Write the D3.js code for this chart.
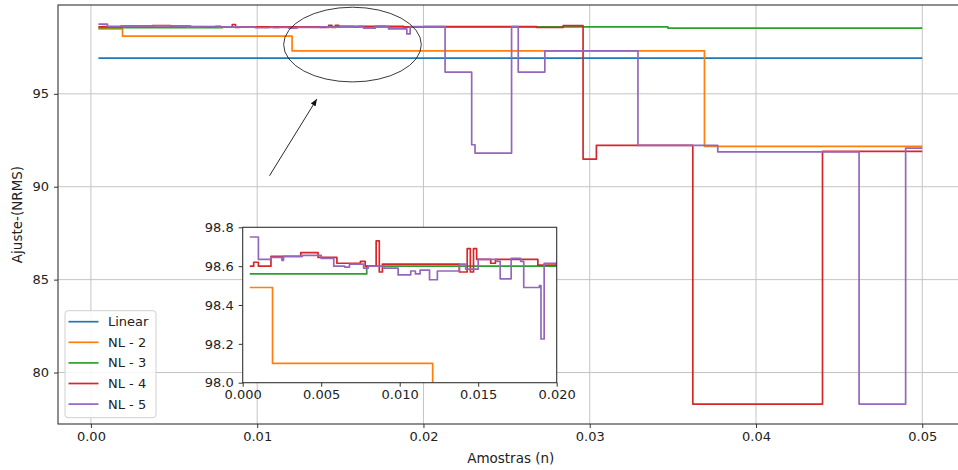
<!DOCTYPE html>
<html><head><meta charset="utf-8">
<script src="https://cdn.jsdelivr.net/npm/d3@7"></script>
<style>
body{margin:0;background:#fff;overflow:hidden;}
text{font-family:"DejaVu Sans",sans-serif;fill:#222;}
</style></head><body>
<svg id="chart" width="958" height="470"></svg>
<script>
const seriesNames = ["Linear", "NL - 2", "NL - 3", "NL - 4", "NL - 5"];
const seriesColors = ["#1f77b4", "#ff7f0e", "#2ca02c", "#d62728", "#9467bd"];

// Step breakpoints: each y value holds from its x until the next x
const linearX = [0.00045, 0.05];
const linearY = [96.92, 96.92];

const nl2X = [0.00045, 0.0019, 0.0121, 0.0369, 0.05];
const nl2Y = [98.49, 98.10, 97.31, 92.17, 92.17];

const nl3X = [0.00045, 0.0079, 0.0347, 0.05];
const nl3Y = [98.56, 98.60, 98.54, 98.54];

const nl4X = [0.00045, 0.0007, 0.0010, 0.0018, 0.0037, 0.0048, 0.0060, 0.0075, 0.0078, 0.0085,
              0.0087, 0.0089, 0.0138, 0.0143, 0.0145, 0.0147, 0.0149, 0.0158, 0.0161, 0.0188,
              0.0200, 0.0268, 0.0284, 0.0296, 0.0304, 0.0362, 0.0440, 0.05];
const nl4Y = [98.60, 98.62, 98.60, 98.65, 98.67, 98.645, 98.615, 98.625, 98.60, 98.73,
              98.57, 98.61, 98.57, 98.69, 98.57, 98.69, 98.635, 98.615, 98.635, 98.605,
              98.62, 98.57, 98.67, 91.49, 92.22, 78.30, 91.90, 91.90];

const nl5X = [0.00045, 0.0010, 0.0018, 0.0025, 0.0026, 0.0038, 0.0050, 0.0058, 0.0065, 0.0068,
              0.0077, 0.0080, 0.0090, 0.0099, 0.0107, 0.0110, 0.0113, 0.0119, 0.0124, 0.0138,
              0.0142, 0.0150, 0.0162, 0.0164, 0.0171, 0.0177, 0.0179, 0.0189, 0.0190, 0.0192,
              0.0213, 0.0229, 0.0231, 0.0253, 0.0257, 0.0273, 0.0329, 0.0377, 0.0462, 0.0490, 0.05];
const nl5Y = [98.75, 98.635, 98.645, 98.63, 98.65, 98.655, 98.64, 98.60, 98.595, 98.61,
              98.59, 98.60, 98.59, 98.555, 98.575, 98.56, 98.58, 98.53, 98.575, 98.61,
              98.585, 98.635, 98.625, 98.535, 98.64, 98.625, 98.49, 98.50, 98.225, 98.615,
              96.17, 92.26, 91.81, 98.62, 96.17, 97.31, 92.22, 91.88, 78.30, 92.08, 92.08];

const xTicks = [0.00, 0.01, 0.02, 0.03, 0.04, 0.05];
const yTicks = [80, 85, 90, 95];
const insetXTicks = [0.000, 0.005, 0.010, 0.015, 0.020];
const insetYTicks = [98.0, 98.2, 98.4, 98.6, 98.8];

const xLabel = "Amostras (n)";
const yLabel = "Ajuste-(NRMS)";

const seriesX = [linearX, nl2X, nl3X, nl4X, nl5X];
const seriesY = [linearY, nl2Y, nl3Y, nl4Y, nl5Y];
const series = seriesNames.map((name, i) => ({
  name, color: seriesColors[i],
  points: seriesX[i].map((x, j) => [x, seriesY[i][j]])
}));

const svg = d3.select("#chart");
const fontSize = 13;
const titleSize = 13.5;

// ---------- main axes ----------
const plot = {left: 58, right: 963.5, top: 5, bottom: 424};
const x = d3.scaleLinear().domain([-0.00198, 0.05248]).range([plot.left, plot.right]);
const y = d3.scaleLinear().domain([77.23, 99.78]).range([plot.bottom, plot.top]);

const defs = svg.append("defs");
defs.append("clipPath").attr("id", "mainClip").append("rect")
  .attr("x", plot.left).attr("y", plot.top)
  .attr("width", plot.right - plot.left).attr("height", plot.bottom - plot.top);

// grid
const grid = svg.append("g").attr("stroke", "#c4c4c4").attr("stroke-width", 1);
grid.selectAll("line.gx").data(xTicks).join("line")
  .attr("x1", d => x(d)).attr("x2", d => x(d))
  .attr("y1", plot.top).attr("y2", plot.bottom);
grid.selectAll("line.gy").data(yTicks).join("line")
  .attr("x1", plot.left).attr("x2", plot.right)
  .attr("y1", d => y(d)).attr("y2", d => y(d));

// series lines
const line = d3.line().x(d => x(d[0])).y(d => y(d[1])).curve(d3.curveStepAfter);
svg.append("g").attr("clip-path", "url(#mainClip)")
  .selectAll("path").data(series).join("path")
  .attr("d", d => line(d.points))
  .attr("fill", "none").attr("stroke", d => d.color)
  .attr("stroke-width", 1.7).attr("stroke-linejoin", "round");

// axes
const xAxis = d3.axisBottom(x).tickValues(xTicks).tickFormat(d3.format(".2f")).tickSize(4).tickPadding(4);
const yAxis = d3.axisLeft(y).tickValues(yTicks).tickFormat(d3.format("d")).tickSize(4).tickPadding(5);
const gx = svg.append("g").attr("transform", `translate(0,${plot.bottom})`).call(xAxis);
const gy = svg.append("g").attr("transform", `translate(${plot.left},0)`).call(yAxis);
[gx, gy].forEach(g => {
  g.select(".domain").remove();
  g.selectAll(".tick line").attr("stroke", "#333");
  g.selectAll(".tick text").attr("font-size", fontSize).attr("font-family", "DejaVu Sans").attr("fill", "#222");
});

// frame (left, top, bottom spines; right spine sits past the edge)
svg.append("rect")
  .attr("x", plot.left).attr("y", plot.top)
  .attr("width", plot.right - plot.left).attr("height", plot.bottom - plot.top)
  .attr("fill", "none").attr("stroke", "#333").attr("stroke-width", 1.1);

// axis titles
svg.append("text").attr("x", (plot.left + plot.right) / 2).attr("y", 463)
  .attr("text-anchor", "middle").attr("font-size", titleSize).text(xLabel);
svg.append("text").attr("transform", `translate(22,${(plot.top + plot.bottom) / 2}) rotate(-90)`)
  .attr("text-anchor", "middle").attr("font-size", titleSize).text(yLabel);

// ---------- annotation: ellipse around the top cluster and arrow ----------
const ellipse = {cx: 0.01573, cy: 97.65, w: 0.00828, h: 4.02};
svg.append("ellipse")
  .attr("cx", x(ellipse.cx)).attr("cy", y(ellipse.cy))
  .attr("rx", (x(ellipse.cx + ellipse.w / 2) - x(ellipse.cx - ellipse.w / 2)) / 2)
  .attr("ry", (y(ellipse.cy - ellipse.h / 2) - y(ellipse.cy + ellipse.h / 2)) / 2)
  .attr("fill", "none").attr("stroke", "#222").attr("stroke-width", 0.9);

defs.append("marker").attr("id", "arrowHead")
  .attr("viewBox", "0 0 10 10").attr("refX", 10).attr("refY", 5)
  .attr("markerWidth", 7).attr("markerHeight", 7).attr("markerUnits", "userSpaceOnUse")
  .attr("orient", "auto")
  .append("path").attr("d", "M0,1 L10,5 L0,9 Z").attr("fill", "#111");
const arrow = {x0: 0.01074, y0: 90.59, x1: 0.01359, y1: 94.72};
svg.append("line")
  .attr("x1", x(arrow.x0)).attr("y1", y(arrow.y0))
  .attr("x2", x(arrow.x1)).attr("y2", y(arrow.y1))
  .attr("stroke", "#111").attr("stroke-width", 0.9)
  .attr("marker-end", "url(#arrowHead)");

// ---------- legend ----------
const legend = svg.append("g");
legend.append("rect").attr("x", 65).attr("y", 310.7).attr("width", 91).attr("height", 107)
  .attr("rx", 3).attr("fill", "#fff").attr("fill-opacity", 0.85)
  .attr("stroke", "#d0d0d0").attr("stroke-width", 1);
const legendRows = legend.selectAll("g.row").data(series).join("g")
  .attr("transform", (d, i) => `translate(0,${321.7 + i * 20.6})`);
legendRows.append("line").attr("x1", 68.5).attr("x2", 98.5).attr("y1", 0).attr("y2", 0)
  .attr("stroke", d => d.color).attr("stroke-width", 1.7);
legendRows.append("text").attr("x", 108).attr("y", 0).attr("dy", "0.35em")
  .attr("font-size", fontSize).text(d => d.name);

// ---------- inset (zoom on the first 0.02) ----------
const ins = {left: 242.7, right: 556.7, top: 227.3, bottom: 382.7};
const xi = d3.scaleLinear().domain([0, 0.02]).range([ins.left, ins.right]);
const yi = d3.scaleLinear().domain([98.0, 98.8]).range([ins.bottom, ins.top]);

defs.append("clipPath").attr("id", "insetClip").append("rect")
  .attr("x", ins.left).attr("y", ins.top)
  .attr("width", ins.right - ins.left).attr("height", ins.bottom - ins.top);

const inset = svg.append("g");
inset.append("rect").attr("x", ins.left).attr("y", ins.top)
  .attr("width", ins.right - ins.left).attr("height", ins.bottom - ins.top)
  .attr("fill", "#fff");
const lineI = d3.line().x(d => xi(d[0])).y(d => yi(d[1])).curve(d3.curveStepAfter);
inset.append("g").attr("clip-path", "url(#insetClip)")
  .selectAll("path").data(series).join("path")
  .attr("d", d => lineI(d.points))
  .attr("fill", "none").attr("stroke", d => d.color)
  .attr("stroke-width", 1.7).attr("stroke-linejoin", "round");

const xiAxis = d3.axisBottom(xi).tickValues(insetXTicks).tickFormat(d3.format(".3f")).tickSize(4).tickPadding(3);
const yiAxis = d3.axisLeft(yi).tickValues(insetYTicks).tickFormat(d3.format(".1f")).tickSize(4).tickPadding(5);
const gxi = inset.append("g").attr("transform", `translate(0,${ins.bottom})`).call(xiAxis);
const gyi = inset.append("g").attr("transform", `translate(${ins.left},0)`).call(yiAxis);
[gxi, gyi].forEach(g => {
  g.select(".domain").remove();
  g.selectAll(".tick line").attr("stroke", "#333");
  g.selectAll(".tick text").attr("font-size", fontSize).attr("font-family", "DejaVu Sans").attr("fill", "#222");
});
inset.append("rect").attr("x", ins.left).attr("y", ins.top)
  .attr("width", ins.right - ins.left).attr("height", ins.bottom - ins.top)
  .attr("fill", "none").attr("stroke", "#333").attr("stroke-width", 1.1);
</script>
</body></html>
